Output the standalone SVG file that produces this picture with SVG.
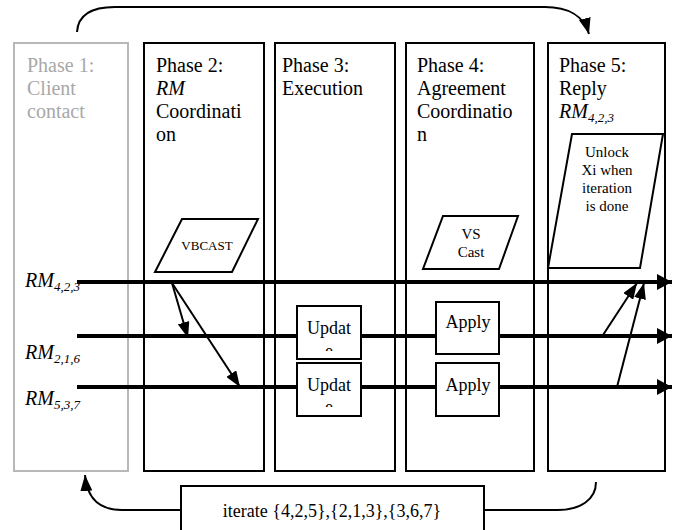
<svg xmlns="http://www.w3.org/2000/svg" width="675" height="530" viewBox="0 0 675 530" font-family="'Liberation Serif', 'Times New Roman', 'DejaVu Serif', serif">
<style>
text{font-family:"Liberation Serif","Times New Roman","DejaVu Serif",serif;fill:#000}
.ph{font-size:20px}
.gray{fill:#a8a8a8}
.it{font-style:italic}
.box{fill:none;stroke:#000;stroke-width:2}
.gbox{fill:none;stroke:#b8b8b8;stroke-width:2}
.wb{fill:#fff;stroke:#000;stroke-width:2}
.lane{fill:none;stroke:#000;stroke-width:4}
.thin{fill:none;stroke:#000;stroke-width:2}
.c{text-anchor:middle}
.s18{font-size:18px}
.s15{font-size:15px}
.s13{font-size:13px}
</style>
<defs>
<marker id="ah" markerUnits="userSpaceOnUse" viewBox="0 0 16 12" refX="16" refY="6" markerWidth="16" markerHeight="12" orient="auto">
<path d="M0,0 L16,6 L0,12 z" fill="#000"/>
</marker>
<marker id="ahb" markerUnits="userSpaceOnUse" viewBox="0 0 15 16" refX="15" refY="8" markerWidth="15" markerHeight="16" orient="auto">
<path d="M0,0 L15,8 L0,16 z" fill="#000"/>
</marker>
<clipPath id="cu1"><rect x="298" y="307" width="62" height="44"/></clipPath>
<clipPath id="cu2"><rect x="298" y="364" width="62" height="43"/></clipPath>
</defs>

<g id="phase1">
<rect class="gbox" x="14" y="43" width="114" height="428"/>
<text class="ph gray" x="27" y="72">Phase 1:</text>
<text class="ph gray" x="27" y="95">Client</text>
<text class="ph gray" x="27" y="118">contact</text>
</g>
<g id="phase2">
<rect class="box" x="144" y="43" width="120" height="428"/>
<text class="ph" x="156" y="72">Phase 2:</text>
<text class="ph it" x="156" y="95">RM</text>
<text class="ph" x="156" y="118">Coordinati</text>
<text class="ph" x="156" y="141">on</text>
</g>
<g id="phase3">
<rect class="box" x="275" y="43" width="120" height="428"/>
<text class="ph" x="282" y="72">Phase 3:</text>
<text class="ph" x="282" y="95">Execution</text>
</g>
<g id="phase4">
<rect class="box" x="406" y="43" width="128" height="428"/>
<text class="ph" x="417" y="72">Phase 4:</text>
<text class="ph" x="417" y="95">Agreement</text>
<text class="ph" x="417" y="118">Coordinatio</text>
<text class="ph" x="417" y="141">n</text>
</g>
<g id="phase5">
<rect class="box" x="548" y="43" width="117" height="428"/>
<text class="ph" x="559" y="72">Phase 5:</text>
<text class="ph" x="559" y="95">Reply</text>
<text class="ph it" x="559" y="118">RM<tspan font-size="13" dy="4">4,2,3</tspan></text>
</g>

<g id="labels">
<text class="ph it" x="25" y="287">RM<tspan font-size="13" dy="4">4,2,3</tspan></text>
<text class="ph it" x="25" y="359">RM<tspan font-size="13" dy="4">2,1,6</tspan></text>
<text class="ph it" x="25" y="405">RM<tspan font-size="13" dy="4">5,3,7</tspan></text>
</g>

<g id="vbcast">
<polygon class="wb" points="182,219 258,219 232,272 155,272"/>
<text class="s13 c" x="207" y="250">VBCAST</text>
</g>
<g id="vscast">
<polygon class="wb" points="443,216 518,216 499,269 423,269"/>
<text class="s15 c" x="471" y="239">VS</text>
<text class="s15 c" x="471" y="257">Cast</text>
</g>
<g id="unlock">
<polygon class="wb" points="572,134 663,134 640,268 548,268"/>
<text class="s15 c" x="607" y="157">Unlock</text>
<text class="s15 c" x="607" y="175">Xi when</text>
<text class="s15 c" x="607" y="193">iteration</text>
<text class="s15 c" x="607" y="211">is done</text>
</g>

<g id="connectors">
<path class="thin" d="M77,32 C78,16 90,7 115,7 L545,7 C568,7 584,16 589,34" marker-end="url(#ah)"/>
<line class="lane" x1="77" y1="282" x2="672" y2="282" marker-end="url(#ahb)"/>
<line class="lane" x1="77" y1="336" x2="672" y2="336" marker-end="url(#ahb)"/>
<line class="lane" x1="77" y1="387" x2="672" y2="387" marker-end="url(#ahb)"/>
<line class="thin" x1="172" y1="283" x2="188" y2="338" marker-end="url(#ah)"/>
<line class="thin" x1="172" y1="283" x2="240" y2="387" marker-end="url(#ah)"/>
<line class="thin" x1="603" y1="335" x2="637" y2="283" marker-end="url(#ah)"/>
<line class="thin" x1="617" y1="387" x2="644" y2="283" marker-end="url(#ah)"/>
<path class="thin" d="M181,510 L122,510 C100,510 87,499 85,475" marker-end="url(#ah)"/>
<path class="thin" d="M484,510 L557,510 C580,510 596,500 596,482"/>
</g>

<g id="update1">
<rect class="wb" x="297" y="306" width="64" height="53"/>
<text class="s18 c" x="329" y="334">Updat</text>
<text class="s18 c" x="329" y="357" clip-path="url(#cu1)">e</text>
</g>
<g id="update2">
<rect class="wb" x="297" y="363" width="64" height="53"/>
<text class="s18 c" x="329" y="391">Updat</text>
<text class="s18 c" x="329" y="413" clip-path="url(#cu2)">e</text>
</g>
<g id="apply1">
<rect class="wb" x="436" y="302" width="63" height="52"/>
<text class="s18 c" x="468" y="328">Apply</text>
</g>
<g id="apply2">
<rect class="wb" x="436" y="363" width="63" height="53"/>
<text class="s18 c" x="468" y="391">Apply</text>
</g>

<g id="iterate">
<rect class="wb" x="181" y="486" width="303" height="50"/>
<text class="s18 c" x="332" y="517">iterate {4,2,5},{2,1,3},{3,6,7}</text>
</g>
</svg>
